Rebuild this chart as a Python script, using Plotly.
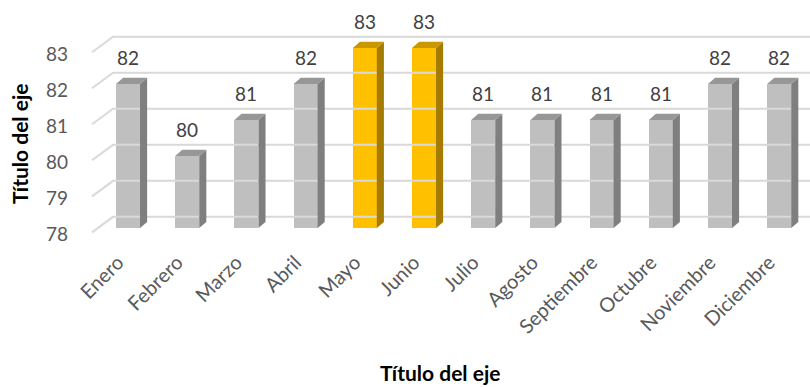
import plotly.graph_objects as go

# Monthly values shown as 3D-style columns
months = ["Enero", "Febrero", "Marzo", "Abril", "Mayo", "Junio", "Julio",
          "Agosto", "Septiembre", "Octubre", "Noviembre", "Diciembre"]
values = [82, 80, 81, 82, 83, 83, 81, 81, 81, 81, 82, 82]
highlight = [False, False, False, False, True, True, False, False, False, False, False, False]
y_ticks = [78, 79, 80, 81, 82, 83]
axis_title = "Título del eje"

BASE = 78
FONT = "Lato, 'Open Sans', sans-serif"

# face colours: (front, side, top)
GRAY = ("#BFBFBF", "#7F7F7F", "#979797")
GOLD = ("#FFC000", "#A67C00", "#C99700")

# pseudo-3D geometry in data units
BAR_W = 0.405
SIDE_DX, SIDE_DY = 0.12, 0.17
WALL_X, WALL_DY = -0.253, 0.31        # back wall left edge / vertical lift
FRONT_X, FRONT_DY = -0.608, -0.12     # front edge of the side wall
X_RANGE = [-0.71, 11.52]
Y_RANGE = [77.667, 84.11]

# plot area in pixels (used to place the axis titles)
L, T, PW, PH = 86, 8, 724, 232

fig = go.Figure()

# gridlines on the back wall and the side wall
for v in y_ticks:
    fig.add_trace(go.Scatter(
        x=[FRONT_X, WALL_X, X_RANGE[1]],
        y=[v + FRONT_DY, v + WALL_DY, v + WALL_DY],
        mode="lines", line=dict(color="#D9D9D9", width=2),
        hoverinfo="skip", showlegend=False))

front_cols = [(GOLD if h else GRAY)[0] for h in highlight]
xs = list(range(len(months)))

# front faces
fig.add_trace(go.Bar(
    x=xs, y=[v - BASE for v in values], base=BASE, width=BAR_W,
    marker=dict(color=front_cols, line=dict(width=0)),
    hoverinfo="skip", showlegend=False))

# side and top faces
for i, (v, h) in enumerate(zip(values, highlight)):
    _, side, top = GOLD if h else GRAY
    r = i + BAR_W / 2
    l = i - BAR_W / 2
    fig.add_trace(go.Scatter(
        x=[r, r + SIDE_DX, r + SIDE_DX, r, r],
        y=[BASE, BASE + SIDE_DY, v + SIDE_DY, v, BASE],
        fill="toself", fillcolor=side, mode="lines", line=dict(width=0),
        hoverinfo="skip", showlegend=False))
    fig.add_trace(go.Scatter(
        x=[l, r, r + SIDE_DX, l + SIDE_DX, l],
        y=[v, v, v + SIDE_DY, v + SIDE_DY, v],
        fill="toself", fillcolor=top, mode="lines", line=dict(width=0),
        hoverinfo="skip", showlegend=False))

# value labels
for i, v in enumerate(values):
    fig.add_annotation(x=i, y=v, text=str(v), showarrow=False, yshift=26,
                       font=dict(family=FONT, size=19, color="#404040"))

# axis titles
title_font = dict(family=FONT, size=21, color="#000000", weight="bold")
fig.add_annotation(xref="paper", yref="paper", xanchor="center", yanchor="middle",
                   x=(440 - L) / PW, y=(T + PH - 372) / PH,
                   text=axis_title, showarrow=False, font=title_font)
fig.add_annotation(xref="paper", yref="paper", xanchor="center", yanchor="middle",
                   x=(19 - L) / PW, y=(T + PH - 144) / PH,
                   text=axis_title, textangle=-90, showarrow=False, font=title_font)

fig.update_layout(
    width=810, height=387,
    margin=dict(l=L, r=810 - L - PW, t=T, b=387 - T - PH),
    paper_bgcolor="white", plot_bgcolor="white",
    bargap=0, showlegend=False,
    xaxis=dict(range=X_RANGE, tickmode="array", tickvals=xs, ticktext=months,
               tickangle=-45, showgrid=False, zeroline=False, showline=False,
               ticks="", ticklabelstandoff=6, ticklabelshift=-10,
               tickfont=dict(family=FONT, size=20, color="#595959")),
    yaxis=dict(range=Y_RANGE, tickmode="array", tickvals=y_ticks,
               showgrid=False, zeroline=False, showline=False, ticks="",
               ticklabelstandoff=17, ticklabelshift=6,
               tickfont=dict(family=FONT, size=19, color="#595959")),
)

fig.write_html("out.html")
